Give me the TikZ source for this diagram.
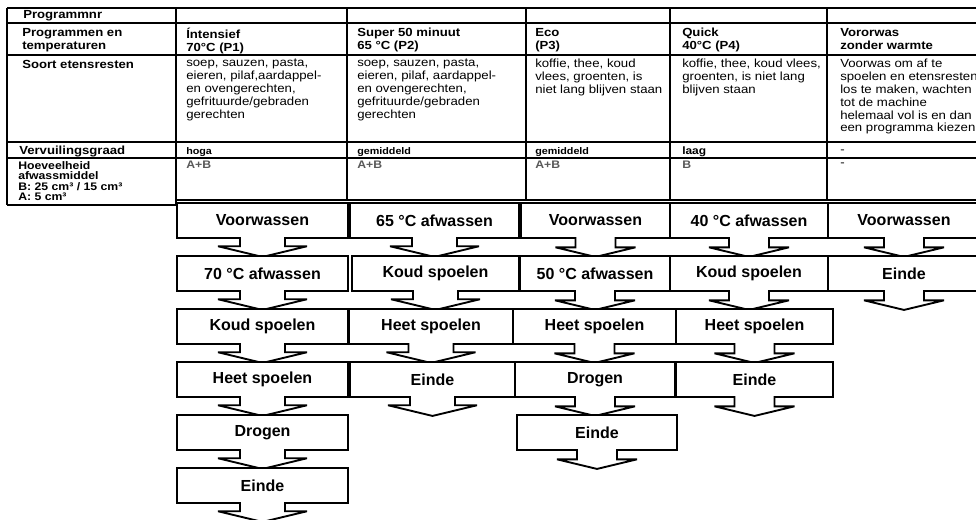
\documentclass[tikz,border=0pt]{standalone}
\usepackage{fontspec}
\setmainfont{Liberation Sans}
\newfontfamily\tabfont{Liberation Sans}[FakeStretch=1.12]
\usetikzlibrary{shapes.arrows}
\setlength{\lineskiplimit}{-10pt}

\begin{document}
\begin{tikzpicture}[x=0.75pt, y=-0.75pt,
		rule/.style={line width=1.4pt},
		cell/.style={inner sep=0pt, align=left},
		firstline/.style={anchor=north west, execute at begin node=\strut},
		head/.style={cell, font=\tabfont\bfseries\fontsize{8.8}{9.75}\selectfont},
		body/.style={cell, font=\tabfont\fontsize{8.85}{9.7}\selectfont},
		note/.style={cell, font=\tabfont\bfseries\fontsize{8.2}{7.9}\selectfont},
		grade/.style={cell, font=\tabfont\bfseries\fontsize{7.2}{8}\selectfont},
		dose/.style={cell, text=black!65, font=\tabfont\bfseries\fontsize{8.2}{9}\selectfont},
		stepbox/.style={arrow box, draw, fill=white, line width=1.4pt, miter limit=3, inner sep=0pt,
			minimum height=26.25pt, font=\bfseries\fontsize{12}{14}\selectfont,
			arrow box north arrow=-1pt, arrow box east arrow=-1pt, arrow box west arrow=-1pt,
			arrow box south arrow=13.5pt, arrow box tip angle=153,
			arrow box shaft width=30pt, arrow box head extend=15pt, arrow box head indent=0pt},
		widestep/.style={stepbox, arrow box shaft width=33.75pt, arrow box head extend=16.5pt}]
	\useasboundingbox (0,0) rectangle (976,520);
	\clip (0,0) rectangle (976,520);

	% table
	\foreach \y in {8,23,55,142,158}
		\draw[rule] (7,\y) -- (990,\y);
	\draw[rule] (176,200) -- (990,200);
	\draw[rule] (7,205) -- (176,205);
	\foreach \x in {7,176}
		\draw[rule] (\x,8) -- (\x,205);
	\foreach \x in {347,526,670,827}
		\draw[rule] (\x,8) -- (\x,200);

	\node[head, anchor=base west] (nr) at (23,19) {Programmnr};
	\node[head, firstline] (prog) at (22,28) {Programmen en\\temperaturen};
	\node[head, anchor=base west] (soort) at (22,69) {Soort etensresten};
	\node[head, anchor=base west] (graad) at (19,155) {Vervuilingsgraad};
	\node[note, anchor=north west] (middel) at (18,161) {Hoeveelheid\\afwassmiddel\\B: 25 cm³ / 15 cm³\\A: 5 cm³};

	\node[head, firstline] (h1) at (186,28) {Íntensief\\70°C (P1)};
	\node[head, firstline] (h2) at (357,28) {Super 50 minuut\\65 °C (P2)};
	\node[head, firstline] (h3) at (535,28) {Eco\\(P3)};
	\node[head, firstline] (h4) at (682,28) {Quick\\40°C (P4)};
	\node[head, firstline] (h5) at (840,28) {Vororwas\\zonder warmte};

	\node[body, firstline] (s1) at (186,58.5) {soep, sauzen, pasta,\\eieren, pilaf,aardappel-\\en ovengerechten,\\gefrituurde/gebraden\\gerechten};
	\node[body, firstline] (s2) at (357,58.5) {soep, sauzen, pasta,\\eieren, pilaf, aardappel-\\en ovengerechten,\\gefrituurde/gebraden\\gerechten};
	\node[body, firstline] (s3) at (535,58.5) {koffie, thee, koud\\vlees, groenten, is\\niet lang blijven staan};
	\node[body, firstline] (s4) at (682,58.5) {koffie, thee, koud vlees,\\groenten, is niet lang\\blijven staan};
	\node[body, firstline] (s5) at (840,58.5) {Voorwas om af te\\spoelen en etensresten\\los te maken, wachten\\tot de machine\\helemaal vol is en dan\\een programma kiezen};

	\node[grade, anchor=base west] (g1) at (186,155) {hoga};
	\node[grade, anchor=base west] (g2) at (357,155) {gemiddeld};
	\node[grade, anchor=base west] (g3) at (535,155) {gemiddeld};
	\node[grade, anchor=base west, font=\tabfont\bfseries\fontsize{8}{9}\selectfont] (g4) at (682,155) {laag};
	\node[body, anchor=base west] (g5) at (840,154) {-};

	\node[dose, anchor=base west] (d1) at (186,169) {A+B};
	\node[dose, anchor=base west] (d2) at (357,169) {A+B};
	\node[dose, anchor=base west] (d3) at (535,169) {A+B};
	\node[dose, anchor=base west] (d4) at (682,169) {B};
	\node[body, anchor=base west] (d5) at (840,167) {-};

	% programme steps
	\node[widestep, minimum width=128.25pt] (p1a) at (262.5,220.5) {Voorwassen};
	\node[widestep, minimum width=126.75pt] (p2a) at (434.5,220.5) {65 °C afwassen};
	\node[stepbox, minimum width=111.75pt] (p3a) at (595.5,220.5) {Voorwassen};
	\node[stepbox, minimum width=118.5pt] (p4a) at (749,220.5) {40 °C afwassen};
	\node[stepbox, minimum width=114pt] (p5a) at (904,220.5) {Voorwassen};

	\node[widestep, minimum width=128.25pt] (p1b) at (262.5,273.5) {70 °C afwassen};
	\node[widestep, minimum width=125.25pt] (p2b) at (435.5,273.5) {Koud spoelen};
	\node[stepbox, minimum width=112.5pt] (p3b) at (595,273.5) {50 °C afwassen};
	\node[stepbox, minimum width=118.5pt] (p4b) at (749,273.5) {Koud spoelen};
	\node[stepbox, minimum width=114pt] (p5b) at (904,273.5) {Einde};

	\node[widestep, minimum width=128.25pt] (p1c) at (262.5,326.5) {Koud spoelen};
	\node[widestep, minimum width=123pt] (p2c) at (431,326.5) {Heet spoelen};
	\node[stepbox, minimum width=122.25pt] (p3c) at (594.5,326.5) {Heet spoelen};
	\node[stepbox, minimum width=117.75pt] (p4c) at (754.5,326.5) {Heet spoelen};

	\node[widestep, minimum width=128.25pt] (p1d) at (262.5,379.5) {Heet spoelen};
	\node[widestep, minimum width=123.75pt] (p2d) at (432.5,379.5) {Einde};
	\node[stepbox, minimum width=120pt] (p3d) at (595,379.5) {Drogen};
	\node[stepbox, minimum width=117.75pt] (p4d) at (754.5,379.5) {Einde};

	\node[widestep, minimum width=128.25pt] (p1e) at (262.5,432.5) {Drogen};
	\node[stepbox, minimum width=120pt] (p3e) at (597,432.5) {Einde};

	\node[widestep, minimum width=128.25pt] (p1f) at (262.5,485.5) {Einde};
\end{tikzpicture}
\end{document}
